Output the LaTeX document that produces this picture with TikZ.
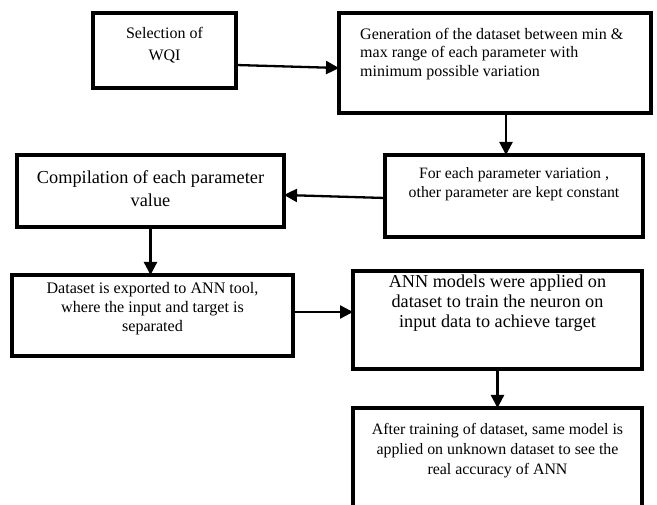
\documentclass[tikz,border=0pt]{standalone}
\usepackage{fontspec}
\setmainfont{Liberation Serif}
\usetikzlibrary{arrows.meta}
\tikzset{
 box/.style={draw, line width=3.1pt, outer sep=0pt, inner sep=0pt},
 txt/.style={inner sep=0pt, align=center, anchor=north},
 arr/.style={line width=2.3pt, -{Triangle[length=13pt,width=13pt]}},
}
\begin{document}
\begin{tikzpicture}[x=1pt,y=-1pt]
\path[use as bounding box, clip] (0,0) rectangle (657,505);
\fill[white] (0,0) rectangle (657,505);
\node[box, minimum width=143pt, minimum height=75pt] (b1) at (164.5,50.5) {};
\node[box, minimum width=312pt, minimum height=100pt] (b2) at (495,63) {};
\node[box, minimum width=258pt, minimum height=82pt] (b3) at (514,196) {};
\node[box, minimum width=267pt, minimum height=72pt] (b4) at (150.5,191) {};
\node[box, minimum width=281pt, minimum height=81pt] (b5) at (152.5,315.5) {};
\node[box, minimum width=289pt, minimum height=98pt] (b6) at (497.5,320) {};
\node[box, minimum width=289pt, minimum height=132pt] (b7) at (497.5,474) {};

\node[txt, font=\fontsize{16}{21.7}\selectfont] (t1) at ([yshift=-14pt]b1.north) {Selection of\\WQI};
\node[txt, anchor=north west, align=left, font=\fontsize{16}{18.3}\selectfont] (t2) at ([xshift=21pt,yshift=-15pt]b2.north west) {Generation of the dataset between min \&\\max range of each parameter with\\minimum possible variation};
\node[txt, font=\fontsize{15.8}{19.5}\selectfont] (t3) at ([yshift=-12pt]b3.north) {For each parameter variation ,\\ other parameter are kept constant};
\node[txt, font=\fontsize{18.3}{23}\selectfont] (t4) at ([yshift=-15pt]b4.north) {Compilation of each parameter\\value};
\node[txt, font=\fontsize{16.1}{19.2}\selectfont] (t5) at ([yshift=-7pt]b5.north) {Dataset is exported to ANN tool,\\where the input and target is\\separated};
\node[txt, font=\fontsize{18.2}{20}\selectfont] (t6) at ([yshift=-4pt]b6.north) {ANN models were applied on\\dataset to train the neuron on\\input data to achieve target};
\node[txt, font=\fontsize{15.9}{20}\selectfont] (t7) at ([yshift=-15pt]b7.north) {After training of dataset, same model is\\applied on unknown dataset to see the\\real accuracy of ANN};

\draw[arr] ([yshift=-14.5pt]b1.east) -- ([yshift=-5pt]b2.west);
\draw[arr] ([xshift=11pt]b2.south) -- ([xshift=-8pt]b3.north);
\draw[arr] ([yshift=-2pt]b3.west) -- ([yshift=-4pt]b4.east);
\draw[arr] (b4.south) -- (b4.south |- b5.north);
\draw[arr] ([yshift=3.5pt]b5.east) -- ([yshift=3.5pt]b5.east -| b6.west);
\draw[arr] (b6.south) -- (b7.north);
\end{tikzpicture}
\end{document}
